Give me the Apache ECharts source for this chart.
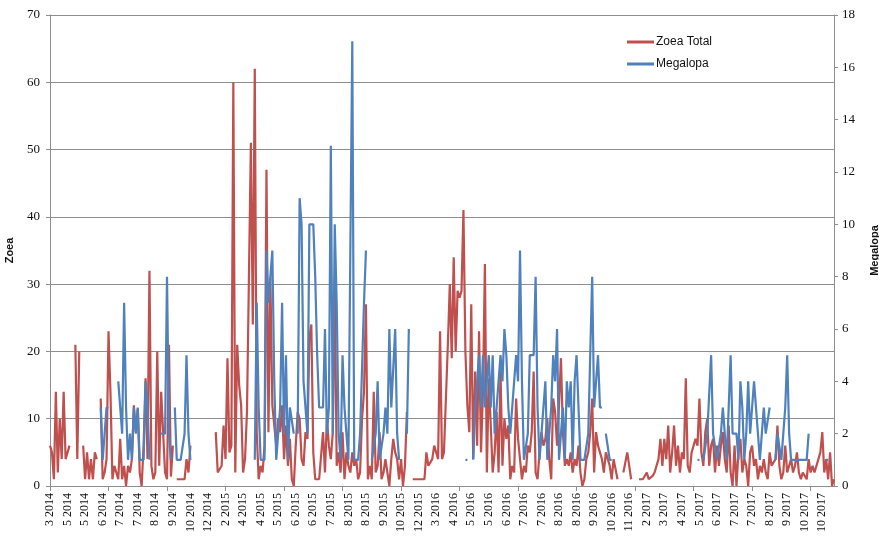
<!DOCTYPE html>
<html>
<head>
<meta charset="utf-8">
<script src="https://cdn.jsdelivr.net/npm/echarts@6/dist/echarts.min.js"></script>
<style>
  html, body { margin: 0; padding: 0; background: #fff; }
  #chart { width: 879px; height: 548px; }
</style>
</head>
<body>
<div id="chart"></div>
<script>
// Sampling-month labels, one for every 9th sample
const monthLabels = [
  "3 2014","5 2014","5 2014","6 2014","7 2014","7 2014","8 2014","9 2014","10 2014","12 2014",
  "2 2015","4 2015","4 2015","5 2015","6 2015","6 2015","7 2015","8 2015","8 2015","9 2015","10 2015","12 2015",
  "3 2016","4 2016","5 2016","5 2016","6 2016","7 2016","7 2016","8 2016","8 2016","9 2016","10 2016","11 2016",
  "2 2017","3 2017","4 2017","5 2017","6 2017","7 2017","7 2017","8 2017","9 2017","10 2017","10 2017"
];
const samplesPerLabel = 9;

// Zoea Total per sample (left axis); null = no sample
const zoeaTotal = [
  6, 5, 1, 14, 2, 10, 4, 14, 4, 5,
  6, null, null, 21, 4, 20, null, 6, 1, 5,
  1, 4, 1, 5, 4, null, 13, 1, 2, 4,
  23, 14, 1, 3, 3, 1, 7, 1, 3, 0,
  3, 2, 4, 12, 8, 11.5, 2, 0, 6, 16,
  4, 32, 3, 1, 2, 20, 3, 14, 8, 2,
  1, 21, 1.4, 6, null, 1, 1, 1, 1, 1,
  4, 2, 6, null, null, null, null, null, null, null,
  null, null, null, null, null, 8, 2, 2, 3, 9,
  4, 19, 5, 6, 60, 2, 21, 15, 12, 2,
  4, 11, 11, 51, 24, 62, 8, 1, 3, 2,
  6, 47, 8, 31, 12, 12, 6, 10, 8, 12,
  4, 9, 3, 7, 1, 0, 6, 11, 10, 4,
  3, 8, 7, 22, 24, 5, 1, 1, 1, 1,
  8, 2, 10, 6, 4, 8, 31, 3, 5, 2,
  8, 1, 5, 3, 2, 5, 3, 4, 1, 2,
  10, 14, 27, 1, 3, 1, 14, 2, 3, 8,
  1, 2, 4, 2, 0, 4, 7, 5, 4, 1,
  4, 0, 3, 11, null, null, 1, 1, 1, 1,
  1, 1, 1, 5, 3, 3, 4, 6, 6, 4,
  23, 4, 5, 5, 21, 30, 19, 34, 20, 29,
  28, 29, 41, 20, 12, 8, 27, 4, 17, 6,
  23, 5, 14, 33, 2, 16, 9, 2, 5, 11,
  2, 17, 3, 10, 7, 9, 1, 3, 2, 13,
  7, 4, 1, 3, 2, 6, 5, 8, 17, 2,
  1, 5, 8, 6, 7, 10, 4, 1, 13, 11,
  6, 12, 19, 8, 3, 4, 3, 5, 2, 4,
  3, 6, 2, 0, 1, 4, 5, 8, 13, 2,
  8, 6, 5, 4, 2, 5, 4, 3, 1, 4,
  4, 1, null, null, 2, 2, 5, 3, 1, null,
  null, null, 1, 1, 1, 1, 2, 1, 1, 1.5,
  2, 2, 4, 7, 3, 7, 4, 9, 2, 5,
  9, 3, 6, 2, 5, 4, 16, 3, 2, 5,
  6, 7, 6, 13, 5, 3, 8, 10, 3, 6,
  7, 2, 6, 3, 6, 8, 4, 2, 9, 2,
  0, 6, 0, 5, 7, 2, 4, 3, 0, 5,
  6, 3, 4, 1, 3, 2, 4, 2, 1, 5,
  3, 3, 4, 9, 3, 1, 2, 6, 2, 3,
  4, 2, 3, 5, 2, 1, 2, 2, 1, 4,
  2, 3, 2, 3, 4, 5, 8, 2, 4, 1,
  5, 0, 1
];

// Megalopa per sample (right axis); null = no sample
const megalopa = [
  null, null, null, null, null, null, null, null, null, null,
  null, null, null, null, null, null, null, null, null, null,
  null, null, null, null, null, null, 3, 1, 1, 3,
  3, null, null, null, null, 4, 3, 2, 7, 3,
  1, 2, 1, 3, 2, 3, 1, 1, 1, 4,
  3, 1, null, null, null, null, null, 2, 2, 2,
  8, 2, 1, null, 3, 1, 1, 1, 1, 2,
  5, 2, 1, null, null, null, null, null, null, null,
  null, null, null, null, null, null, null, null, null, null,
  null, null, null, null, null, null, null, null, null, null,
  null, null, null, null, null, 1, 7, 3, 1, 1,
  1, 9, 7, 8, 9, 4, 1, 1, 3, 7,
  2, 5, 1, 3, 3, 2, null, 2, 11, 10,
  4, 4, 2, 10, 10, 10, 8, 5, 3, 3,
  3, 6, 2, 3, 13, 2, 10, 7, 2, 1,
  5, 3, 3, 1, 1, 17, 1, 1, 1, 2,
  2, 7, 9, null, null, 1, 1, 2, 4, 1,
  1, 2, 3, 2, 6, 3, 3, 6, 2, 1,
  null, null, null, 2, 6, null, null, null, null, null,
  null, null, null, null, null, null, null, null, null, null,
  null, null, null, null, null, null, null, null, null, null,
  null, null, null, 1, 1, null, null, 1, 3, 4,
  5, 3, 5, 3, 3, 5, 3, 5, 2, 3,
  3, 5, 4, 6, 5, 3, 2, 3, 3, 5,
  4, 9, 4, 1, 1, 2, 5, 5, 5, 8,
  3, 1, 2, 2, 4, 1, 1, 3, 5, 4,
  6, 1, 2, 3, 1, 4, 3, 4, 1, 4,
  5, 3, 1, 1, 1, 1, 2, 2, 8, 3,
  4, 5, 3, 3, null, 2, 2, 1, 1, null,
  null, null, null, null, null, null, null, null, null, null,
  null, null, null, null, null, null, null, null, null, null,
  null, null, null, null, null, null, null, null, null, null,
  null, null, null, null, null, null, null, null, null, null,
  null, null, 1, 1, null, 1, 1, 2, 2, 5,
  2, 2, 1, 1, 2, 3, 3, 1, 1, 5,
  2, 2, 2, 1, 4, 3, 1, 2, 4, 2,
  2, 4, 3, 2, 1, 2, 3, 2, 2, 3,
  null, null, 1, 2, 2, 1, 2, 3, 5, 2,
  1, 1, 1, 1, 1, 1, 1, 1, 1, 2,
  null, null, null, null, null, null, null, null, 1, 1,
  null, null, null
];

// Category per sample: the month label of the block it belongs to
const categories = zoeaTotal.map((_, i) =>
  monthLabels[Math.min(monthLabels.length - 1, Math.floor(i / samplesPerLabel))]);

const RED = '#C0504D';
const BLUE = '#4F81BD';
const GRID = '#8e8e8e';
const serif = '"Liberation Serif", "DejaVu Serif", serif';
const sans = '"Liberation Sans", "DejaVu Sans", sans-serif';

const chart = echarts.init(document.getElementById('chart'), null, { renderer: 'canvas' });
chart.setOption({
  animation: false,
  backgroundColor: '#fff',
  grid: { left: 50, right: 45, top: 15, bottom: 62, containLabel: false, outerBoundsMode: 'none' },
  legend: {
    orient: 'vertical',
    left: 622,
    top: 31,
    itemGap: 10,
    itemWidth: 27,
    itemHeight: 3,
    icon: 'rect',
    textStyle: { fontFamily: sans, fontSize: 12, color: '#111', padding: [0, 0, 0, -3] },
    data: ['Zoea Total', 'Megalopa']
  },
  xAxis: {
    type: 'category',
    data: categories,
    boundaryGap: false,
    axisLine: { lineStyle: { color: GRID, width: 1 } },
    axisTick: { show: true, interval: 29, length: 5, lineStyle: { color: GRID } },
    axisLabel: {
      interval: samplesPerLabel - 1,
      rotate: 90,
      margin: 7,
      fontFamily: serif,
      fontSize: 12,
      color: '#111'
    },
    splitLine: { show: false }
  },
  yAxis: [
    {
      type: 'value',
      name: 'Zoea',
      nameLocation: 'middle',
      nameRotate: 90,
      nameGap: 35,
      nameTextStyle: { fontFamily: sans, fontSize: 11, fontWeight: 'bold', color: '#111' },
      min: 0, max: 70, interval: 10,
      axisLine: { show: true, lineStyle: { color: GRID } },
      axisTick: { show: true, length: 4, lineStyle: { color: GRID } },
      axisLabel: { fontFamily: serif, fontSize: 13, color: '#111', margin: 10 },
      splitLine: { show: true, lineStyle: { color: GRID, width: 1 } }
    },
    {
      type: 'value',
      name: 'Megalopa',
      nameLocation: 'middle',
      nameRotate: 90,
      nameGap: 35,
      nameTextStyle: { fontFamily: sans, fontSize: 11, fontWeight: 'bold', color: '#111' },
      min: 0, max: 18, interval: 2,
      position: 'right',
      axisLine: { show: true, lineStyle: { color: GRID } },
      axisTick: { show: true, length: 4, lineStyle: { color: GRID } },
      axisLabel: { fontFamily: serif, fontSize: 13, color: '#111', margin: 8 },
      splitLine: { show: false }
    }
  ],
  series: [
    {
      name: 'Zoea Total',
      type: 'line',
      yAxisIndex: 0,
      data: zoeaTotal,
      showSymbol: false,
      connectNulls: false,
      lineStyle: { color: RED, width: 2.2 },
      itemStyle: { color: RED },
      z: 2
    },
    {
      name: 'Megalopa',
      type: 'line',
      yAxisIndex: 1,
      data: megalopa,
      showSymbol: false,
      connectNulls: false,
      lineStyle: { color: BLUE, width: 2.2 },
      itemStyle: { color: BLUE },
      z: 3
    }
  ]
});
</script>
</body>
</html>
